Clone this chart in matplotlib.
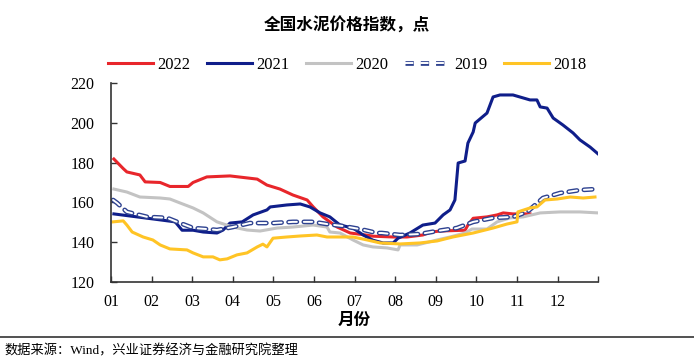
import matplotlib
matplotlib.use('Agg')
import matplotlib.pyplot as plt
from matplotlib.lines import Line2D

plt.rcParams['font.family'] = ['Liberation Serif', 'Noto Sans CJK SC']
plt.rcParams['lines.scale_dashes'] = False

# 月份位置 (0 = 1月初) 与指数值
x_2022 = [0.07, 0.30, 0.39, 0.71, 0.84, 1.21, 1.45, 1.90, 2.02, 2.36, 2.93, 3.35, 3.60, 3.84, 4.16,
          4.48, 4.83, 4.98, 5.22, 5.57, 5.89, 6.31, 6.45, 6.95, 7.29, 7.68, 7.86, 8.10, 8.72, 8.79,
          8.92, 9.26, 9.51, 9.66, 9.90, 10.32]
v_2022 = [181.8, 177.0, 175.3, 173.8, 170.3, 170.0, 168.0, 168.0, 170.0, 172.8, 173.3, 172.3, 171.7,
          168.7, 166.7, 163.7, 161.2, 157.7, 152.7, 147.6, 144.6, 143.5, 143.0, 142.6, 142.6, 143.6,
          145.0, 145.6, 146.0, 148.6, 152.0, 152.7, 153.7, 154.7, 154.2, 154.2]

x_2021 = [0.07, 0.64, 1.21, 1.58, 1.75, 2.02, 2.27, 2.61, 2.76, 2.93, 3.23, 3.50, 3.84, 3.92, 4.33,
          4.66, 4.90, 5.15, 5.39, 5.64, 5.96, 6.21, 6.45, 6.70, 6.95, 7.07, 7.36, 7.68, 7.98, 8.18,
          8.35, 8.47, 8.55, 8.72, 8.79, 8.92, 8.97, 9.26, 9.41, 9.58, 9.90, 10.32, 10.49, 10.57,
          10.74, 10.89, 11.13, 11.38, 11.55, 11.80, 12.0]
v_2021 = [154.2, 152.7, 151.2, 150.2, 146.0, 146.0, 145.1, 144.6, 146.1, 149.6, 150.2, 153.7, 156.2,
          157.7, 158.7, 159.2, 157.7, 154.7, 152.7, 148.6, 147.1, 143.6, 141.0, 139.6, 139.6, 142.0,
          144.6, 148.6, 149.6, 153.7, 156.2, 161.2, 179.8, 180.8, 189.8, 195.4, 199.9, 204.9, 213.0,
          214.0, 214.0, 211.5, 211.5, 208.0, 207.4, 202.4, 198.9, 194.9, 191.4, 187.8, 184.3]

x_2020 = [0.07, 0.39, 0.71, 1.21, 1.45, 1.70, 2.02, 2.27, 2.61, 3.00, 3.35, 3.67, 4.09, 4.48, 4.98,
          5.32, 5.39, 5.64, 5.96, 6.21, 6.45, 6.80, 7.07, 7.12, 7.54, 8.03, 8.35, 8.72, 8.89, 9.26,
          9.51, 9.83, 10.15, 10.57, 11.06, 11.55, 12.0]
v_2020 = [166.7, 165.2, 162.7, 162.2, 161.7, 159.7, 157.2, 154.7, 150.2, 147.6, 146.1, 145.6, 147.1,
          147.6, 148.6, 147.6, 145.1, 144.6, 141.1, 138.6, 137.6, 137.1, 136.1, 138.6, 138.6, 141.1,
          142.6, 144.6, 146.6, 146.6, 150.2, 152.2, 152.7, 154.7, 155.2, 155.2, 154.7]

x_2019 = [0.05, 0.15, 0.39, 0.89, 1.38, 1.70, 2.02, 2.36, 2.61, 3.00, 3.42, 3.99, 4.48, 4.98, 5.32,
          5.71, 6.13, 6.55, 6.67, 7.12, 7.61, 8.03, 8.52, 8.92, 9.41, 9.90, 10.25, 10.64, 11.06,
          11.55, 11.97]
v_2019 = [161.2, 159.7, 155.2, 152.7, 152.2, 149.6, 147.1, 146.6, 146.1, 147.6, 149.6, 149.6, 150.2,
          150.2, 149.1, 148.1, 146.6, 144.6, 144.6, 143.6, 144.1, 145.6, 147.1, 150.2, 152.2, 152.7,
          155.2, 162.2, 164.7, 166.2, 166.7]

x_2018 = [0.05, 0.30, 0.39, 0.52, 0.79, 1.03, 1.21, 1.45, 1.87, 2.02, 2.27, 2.51, 2.68, 2.86, 3.10,
          3.35, 3.60, 3.74, 3.84, 3.99, 4.33, 4.66, 5.07, 5.32, 5.96, 6.31, 6.63, 7.12, 7.61, 8.03,
          8.42, 8.92, 9.41, 9.75, 10.0, 10.02, 10.32, 10.49, 10.69, 10.99, 11.31, 11.63, 11.92]
v_2018 = [150.2, 150.7, 148.6, 145.1, 142.6, 141.1, 138.6, 136.6, 136.1, 134.6, 132.6, 132.6, 131.1,
          131.6, 133.6, 134.6, 137.6, 139.0, 137.6, 142.0, 142.6, 143.1, 143.6, 142.6, 142.6, 141.1,
          139.6, 139.1, 139.6, 140.6, 142.6, 144.6, 147.1, 149.1, 150.2, 155.2, 157.2, 157.7, 161.2,
          161.7, 162.7, 162.2, 162.7]

month_labels = ['01', '02', '03', '04', '05', '06', '07', '08', '09', '10', '11', '12']

c_red = '#E8262B'
c_navy = '#0F1E8A'
c_gray = '#C3C3C3'
c_yellow = '#FFC425'
c_dash = '#2E4290'

fig = plt.figure(figsize=(6.94, 3.61), dpi=100)
ax = fig.add_axes([0.160, 0.219, 0.702, 0.551])

lw = 2.2
ax.plot(x_2022, v_2022, color=c_red, lw=lw)
ax.plot(x_2021, v_2021, color=c_navy, lw=lw)
ax.plot(x_2020, v_2020, color=c_gray, lw=lw)
ax.plot(x_2019, v_2019, color=c_dash, lw=3.4, dashes=(6, 5), dash_capstyle='round')
ax.plot(x_2019, v_2019, color='white', lw=1.4, dashes=(6, 5), dash_capstyle='round')
ax.plot(x_2018, v_2018, color=c_yellow, lw=lw)

ax.set_xlim(0, 12)
ax.set_ylim(120, 220)
ax.set_yticks(range(120, 221, 20))
ax.set_xticks(range(0, 13))
ax.set_xticklabels(month_labels + [''])
ax.tick_params(axis='both', direction='in', length=4, width=1, labelsize=11.5, color='#333333')
ax.tick_params(axis='x', pad=9)
ax.tick_params(axis='y', pad=12)
for s in ['top', 'right']:
    ax.spines[s].set_visible(False)
for s in ['left', 'bottom']:
    ax.spines[s].set_color('#333333')
    ax.spines[s].set_linewidth(1.2)

ax.set_xlabel('月份', fontsize=12, fontweight='bold', labelpad=2)

# 图例
handles = [
    Line2D([], [], color=c_red, lw=lw),
    Line2D([], [], color=c_navy, lw=lw),
    Line2D([], [], color=c_gray, lw=lw),
    (Line2D([], [], color=c_dash, lw=3.4, dashes=(6, 5)),
     Line2D([], [], color='white', lw=1.4, dashes=(6, 5))),
    Line2D([], [], color=c_yellow, lw=lw),
]
fig.legend(handles, ['2022', '2021', '2020', '2019', '2018'], loc='center',
           bbox_to_anchor=(0.5, 0.82), ncol=5, frameon=False, fontsize=12,
           handlelength=2.7, handletextpad=0.25, columnspacing=1.0)

fig.text(0.5, 0.93, '全国水泥价格指数，点', ha='center', va='center', fontsize=12,
         fontweight='bold', family=['Noto Sans CJK SC'])

fig.add_artist(Line2D([0, 1], [0.067, 0.067], color='#333333', lw=1.2))
fig.text(0.007, 0.028, '数据来源：Wind，兴业证券经济与金融研究院整理', ha='left', va='center',
         fontsize=9.5)

fig.savefig('out.png', dpi=100)
